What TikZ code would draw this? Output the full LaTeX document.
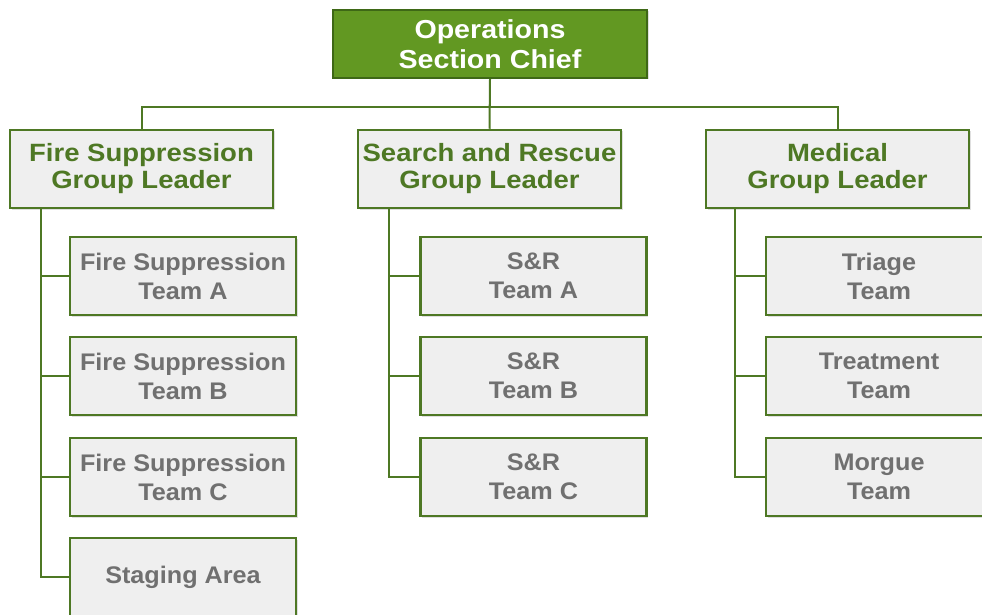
\documentclass[tikz,border=0pt]{standalone}
\usepackage{fontspec}
\setmainfont{Liberation Sans}
\newfontfamily\leadfont[FakeStretch=1.1]{Liberation Sans}
\newfontfamily\teamfont[FakeStretch=1.05]{Liberation Sans}
\usepackage{tikz}
\usetikzlibrary{shadows}

\definecolor{chiefgreen}{RGB}{98,152,34}
\definecolor{chiefedge}{RGB}{62,104,22}
\definecolor{darkgreen}{RGB}{78,120,36}
\definecolor{boxgray}{RGB}{239,239,239}
\definecolor{teamtext}{RGB}{112,112,112}

\begin{document}
\begin{tikzpicture}[x=1pt, y=-1pt]
\tikzstyle{box} = [draw=darkgreen, line width=2.5pt, fill=boxgray, align=center, inner sep=0pt,
  drop shadow={opacity=.25, shadow xshift=1.5pt, shadow yshift=-1.5pt}]
\tikzstyle{chief} = [box, fill=chiefgreen, draw=chiefedge, text=white, minimum width=314pt,
  minimum height=68pt, font=\leadfont\bfseries\fontsize{26}{30}\selectfont]
\tikzstyle{leader} = [box, text=darkgreen, minimum width=263pt, minimum height=78pt,
  font=\leadfont\bfseries\fontsize{25}{27}\selectfont]
\tikzstyle{team} = [box, text=teamtext, minimum width=226pt, minimum height=78pt,
  font=\teamfont\bfseries\fontsize{24}{29}\selectfont]
\tikzstyle{line} = [draw=darkgreen, line width=2pt]

\clip (0,0) rectangle (982,615);

\node[chief] (osc) at (490,44) {Operations\\Section Chief};

\node[leader] (fsgl) at (141.5,169) {Fire Suppression\\Group Leader};
\node[leader] (srgl) at (489.5,169) {Search and Rescue\\Group Leader};
\node[leader] (mgl) at (837.5,169) {Medical\\Group Leader};

% fire suppression
\node[team] (fsa) at (183,276) {Fire Suppression\\Team A};
\node[team] (fsb) at (183,376) {Fire Suppression\\Team B};
\node[team] (fsc) at (183,477) {Fire Suppression\\Team C};
\node[team] (stage) at (183,577) {Staging Area};

% search and rescue
\node[team] (sra) at (533.5,276) {S\&R\\Team A};
\node[team] (srb) at (533.5,376) {S\&R\\Team B};
\node[team] (src) at (533.5,477) {S\&R\\Team C};

% medical
\node[team] (triage) at (879,276) {Triage\\Team};
\node[team] (treat) at (879,376) {Treatment\\Team};
\node[team] (morgue) at (879,477) {Morgue\\Team};

\draw[line] (osc.south) -- ++(0,28) -| (fsgl.north);
\draw[line] (osc.south) -- ++(0,28) -| (mgl.north);
\draw[line] (osc.south) -- (srgl.north);

\foreach \to in {fsa,fsb,fsc,stage}
  \draw[line] (fsgl.south west) ++(32,0) |- (\to.west);
\foreach \to in {sra,srb,src}
  \draw[line] (srgl.south west) ++(32,0) |- (\to.west);
\foreach \to in {triage,treat,morgue}
  \draw[line] (mgl.south west) ++(30,0) |- (\to.west);
\end{tikzpicture}
\end{document}
